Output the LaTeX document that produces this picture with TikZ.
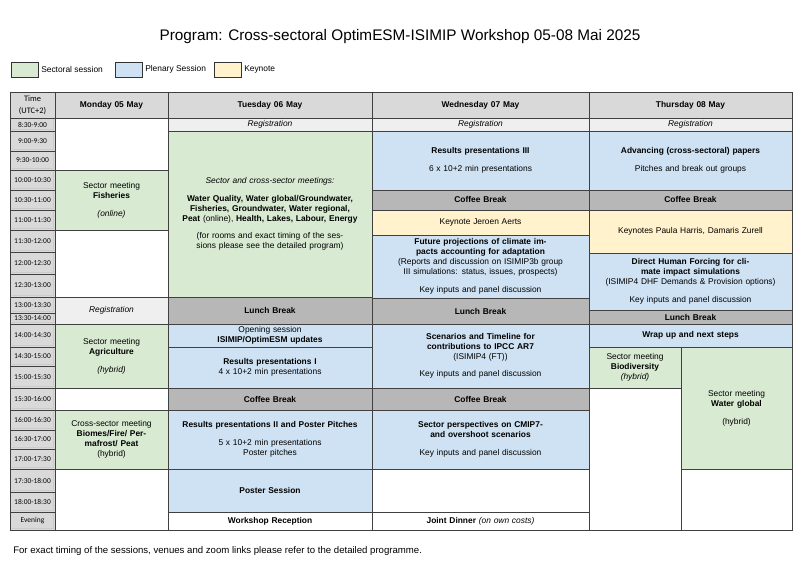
\documentclass[tikz,border=0pt]{standalone}
\usepackage{fontspec}
\setmainfont{Liberation Sans}
\newfontfamily\timefont{Carlito}
\usepackage{tikz}
\usetikzlibrary{positioning}
\newcommand{\rgb}[3]{rgb,255:red,#1; green,#2; blue,#3}
\colorlet{sectoral}{\rgb{217}{234}{211}}
\colorlet{plenary}{\rgb{207}{226}{243}}
\colorlet{keynote}{\rgb{255}{242}{204}}
\colorlet{headgray}{\rgb{217}{217}{217}}
\colorlet{breakgray}{\rgb{183}{183}{183}}
\colorlet{reggray}{\rgb{239}{239}{239}}
% one box of the programme: fill, x1, y1, x2, y2, text
\newcommand{\slot}[6]{
  \draw [fill=#1, draw=black!75, line width=0.6pt] (#2,#3) rectangle (#4,#5);
  \node [slottext, text width=(#4-#2)*0.75pt-4pt] at ({(#2+#4)/2},{(#3+#5)/2}) {#6};
}
\newcommand{\timeslot}[3]{
  \draw [fill=headgray, draw=black!75, line width=0.6pt] (10,#1) rectangle (55,#2);
  \draw [white!60!gray, line width=0.8pt] (11.5,#2-1.5) -- (53.5,#2-1.5) -- (53.5,#1+1.5);
  \node [timetext] at (32.5,{(#1+#2)/2}) {#3};
}
\begin{document}
\begin{tikzpicture}[x=0.75pt, y=-0.75pt,
    slottext/.style={align=center, font=\fontsize{6.3}{7.4}\selectfont, inner sep=0pt},
    timetext/.style={align=center, font=\timefont\fontsize{5.6}{7}\selectfont, inner sep=0pt},
    legendbox/.style={draw=black!80, line width=0.6pt}]
  \useasboundingbox (0,0) rectangle (800,566);

  %titre et legende
  \node [font=\fontsize{11.5}{13}\selectfont] (title) at (400,37) {Program: Cross-sectoral OptimESM-ISIMIP Workshop 05-08 Mai 2025};
  \draw [legendbox, fill=sectoral] (11,62) rectangle (38,77);
  \node [slottext, anchor=west] (legsect) at (41,69.5) {Sectoral session};
  \draw [legendbox, fill=plenary] (115,62) rectangle (142,77);
  \node [slottext, anchor=west] (legplen) at (145,69.5) {Plenary Session};
  \draw [legendbox, fill=keynote] (214,62) rectangle (241,77);
  \node [slottext, anchor=west] (legkey) at (244,69.5) {Keynote};

  %colonne des heures
  \draw [fill=headgray, draw=black!75, line width=0.6pt] (10,92) rectangle (55,118);
  \node [timetext, font=\timefont\fontsize{6.3}{9}\selectfont] at (32.5,105) {Time\\(UTC+2)};
  \timeslot{118}{131}{8:30-9:00}
  \timeslot{131}{151}{9:00-9:30}
  \timeslot{151}{170}{9:30-10:00}
  \timeslot{170}{190}{10:00-10:30}
  \timeslot{190}{210}{10:30-11:00}
  \timeslot{210}{230}{11:00-11:30}
  \timeslot{230}{252}{11:30-12:00}
  \timeslot{252}{274}{12:00-12:30}
  \timeslot{274}{297}{12:30-13:00}
  \timeslot{297}{313}{13:00-13:30}
  \timeslot{313}{324}{13:30-14:00}
  \timeslot{324}{347}{14:00-14:30}
  \timeslot{347}{366}{14:30-15:00}
  \timeslot{366}{388}{15:00-15:30}
  \timeslot{388}{410}{15:30-16:00}
  \timeslot{410}{430}{16:00-16:30}
  \timeslot{430}{449}{16:30-17:00}
  \timeslot{449}{469}{17:00-17:30}
  \timeslot{469}{492}{17:30-18:00}
  \timeslot{492}{512}{18:00-18:30}
  \timeslot{512}{530}{Evening}

  %en-tetes des jours
  \slot{headgray}{55}{92}{168}{118}{\bfseries Monday 05 May}
  \slot{headgray}{168}{92}{372}{118}{\bfseries Tuesday 06 May}
  \slot{headgray}{372}{92}{589}{118}{\bfseries Wednesday 07 May}
  \slot{headgray}{589}{92}{792}{118}{\bfseries Thursday 08 May}

  %lundi
  \slot{white}{55}{118}{168}{170}{}
  \slot{sectoral}{55}{170}{168}{230}{Sector meeting\\\textbf{Fisheries}\\[6pt]\textit{(online)}}
  \slot{white}{55}{230}{168}{297}{}
  \slot{reggray}{55}{297}{168}{324}{\textit{Registration}}
  \slot{sectoral}{55}{324}{168}{388}{Sector meeting\\\textbf{Agriculture}\\[6pt]\textit{(hybrid)}}
  \slot{white}{55}{388}{168}{410}{}
  \slot{sectoral}{55}{410}{168}{469}{Cross-sector meeting\\\textbf{Biomes/Fire/ Permafrost/ Peat}\\(hybrid)}
  \slot{white}{55}{469}{168}{530}{}

  %mardi
  \slot{reggray}{168}{118}{372}{131}{\textit{Registration}}
  \slot{sectoral}{168}{131}{372}{297}{\textit{Sector and cross-sector meetings:}\\[6pt]\textbf{Water Quality, Water global/Groundwater, Fisheries, Groundwater, Water regional, Peat} (online), \textbf{Health, Lakes, Labour, Energy}\\[6pt](for rooms and exact timing of the sessions please see the detailed program)}
  \slot{breakgray}{168}{297}{372}{324}{\bfseries Lunch Break}
  \slot{plenary}{168}{324}{372}{347}{Opening session\\\textbf{ISIMIP/OptimESM updates}}
  \slot{plenary}{168}{347}{372}{388}{\textbf{Results presentations I}\\4 x 10+2 min presentations\\[5pt]}
  \slot{breakgray}{168}{388}{372}{410}{\bfseries Coffee Break}
  \slot{plenary}{168}{410}{372}{469}{\textbf{Results presentations II and Poster Pitches}\\[6pt]5 x 10+2 min presentations\\Poster pitches}
  \slot{plenary}{168}{469}{372}{512}{\bfseries Poster Session}
  \slot{white}{168}{512}{372}{530}{\bfseries Workshop Reception}

  %mercredi
  \slot{reggray}{372}{118}{589}{131}{\textit{Registration}}
  \slot{plenary}{372}{131}{589}{190}{\textbf{Results presentations III}\\[6pt]6 x 10+2 min presentations}
  \slot{breakgray}{372}{190}{589}{210}{\bfseries Coffee Break}
  \slot{keynote}{372}{210}{589}{235}{Keynote Jeroen Aerts}
  \slot{plenary}{372}{235}{589}{298}{\textbf{Future projections of climate impacts accounting for adaptation}\\(Reports and discussion on ISIMIP3b group III simulations: status, issues, prospects)\\[6pt]Key inputs and panel discussion}
  \slot{breakgray}{372}{298}{589}{324}{\bfseries Lunch Break}
  \slot{plenary}{372}{324}{589}{388}{\textbf{Scenarios and Timeline for contributions to IPCC AR7}\\(ISIMIP4 (FT))\\[6pt]Key inputs and panel discussion}
  \slot{breakgray}{372}{388}{589}{410}{\bfseries Coffee Break}
  \slot{plenary}{372}{410}{589}{469}{\textbf{Sector perspectives on CMIP7- and overshoot scenarios}\\[6pt]Key inputs and panel discussion}
  \slot{white}{372}{469}{589}{512}{}
  \slot{white}{372}{512}{589}{530}{\textbf{Joint Dinner} \textit{(on own costs)}}

  %jeudi
  \slot{reggray}{589}{118}{792}{131}{\textit{Registration}}
  \slot{plenary}{589}{131}{792}{190}{\textbf{Advancing (cross-sectoral) papers}\\[6pt]Pitches and break out groups}
  \slot{breakgray}{589}{190}{792}{210}{\bfseries Coffee Break}
  \slot{keynote}{589}{210}{792}{253}{Keynotes Paula Harris, Damaris Zurell}
  \slot{plenary}{589}{253}{792}{310}{\textbf{Direct Human Forcing for climate impact simulations}\\(ISIMIP4 DHF Demands \& Provision options)\\[6pt]Key inputs and panel discussion}
  \slot{breakgray}{589}{310}{792}{324}{\bfseries Lunch Break}
  \slot{plenary}{589}{324}{792}{347}{\bfseries Wrap up and next steps}
  \slot{sectoral}{589}{347}{681}{388}{Sector meeting\\\textbf{Biodiversity}\\\textit{(hybrid)}}
  \slot{sectoral}{681}{347}{792}{469}{Sector meeting\\\textbf{Water global}\\[6pt](hybrid)\\[8pt]}
  \slot{white}{589}{388}{681}{530}{}
  \slot{white}{681}{469}{792}{530}{}

  %note en bas
  \node [slottext, font=\fontsize{7.2}{9}\selectfont, anchor=west] (footnote) at (13,551) {For exact timing of the sessions, venues and zoom links please refer to the detailed programme.};
\end{tikzpicture}
\end{document}
